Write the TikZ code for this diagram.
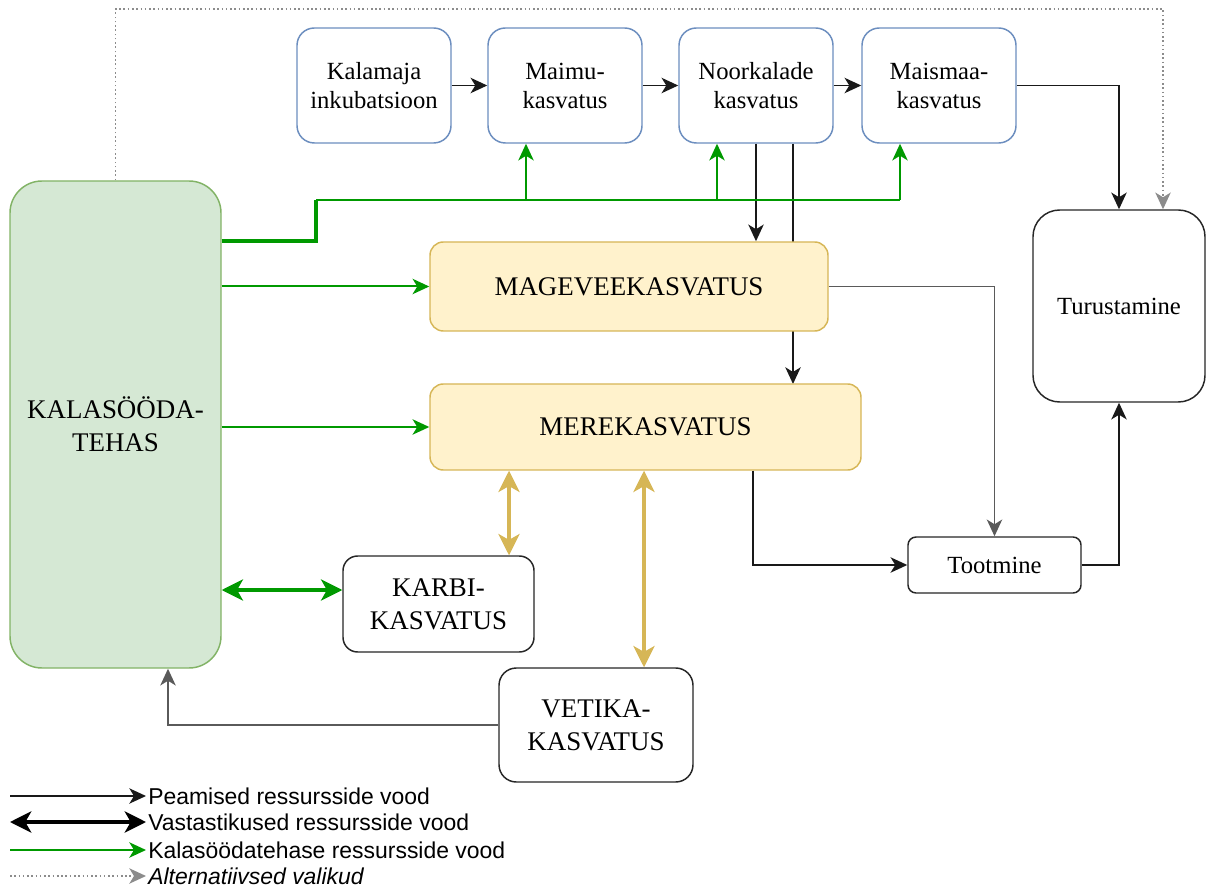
\documentclass[tikz,border=0pt]{standalone}
\usepackage{fontspec}
\setmainfont{Liberation Serif}
\newfontfamily\legfont{Liberation Sans}
\usetikzlibrary{arrows.meta,calc}
\definecolor{blueb}{HTML}{6C8EBF}
\definecolor{greenf}{HTML}{D5E8D4}
\definecolor{greenb}{HTML}{82B366}
\definecolor{yellf}{HTML}{FFF2CC}
\definecolor{yellb}{HTML}{D6B656}
\definecolor{gline}{HTML}{009900}
\definecolor{grayline}{HTML}{5A5A5A}
\definecolor{altgray}{HTML}{8C8C8C}
\begin{document}
\begin{tikzpicture}[x=0.75pt,y=-0.75pt,
  base/.style={line width=1.1pt, align=center, inner sep=0pt},
  smallfont/.style={font=\fontsize{18.5}{21.75}\selectfont},
  topbox/.style={base, draw=blueb, fill=white, rounded corners=13pt,
    minimum width=115.5pt, minimum height=86.25pt, smallfont},
  capsfont/.style={font=\fontsize{20.2}{25}\selectfont},
  blkbox/.style={base, draw=black!85, fill=white},
  arr/.style={line width=1.4pt, draw=black!90, -{Stealth[length=12.5pt,width=11.5pt,inset=3.5pt]}},
  grarr/.style={line width=1.4pt, draw=grayline, -{Stealth[length=12.5pt,width=11.5pt,inset=3.5pt]}},
  garr/.style={line width=1.5pt, draw=gline, -{Stealth[length=12.5pt,width=11.5pt,inset=3.5pt]}},
  gln/.style={line width=1.5pt, draw=gline},
  gdbl/.style={line width=2.4pt, draw=gline, {Stealth[length=16pt,width=16pt,inset=4.5pt]}-{Stealth[length=16pt,width=16pt,inset=4.5pt]}},
  ydbl/.style={line width=2.4pt, draw=yellb, {Stealth[length=16pt,width=16pt,inset=4.5pt]}-{Stealth[length=16pt,width=16pt,inset=4.5pt]}},
  altarr/.style={line width=1.2pt, draw=altgray, dotted, -{Stealth[length=12.5pt,width=11.5pt,inset=3.5pt,fill=altgray]}},
  legtext/.style={anchor=west, inner sep=0pt, font=\legfont\fontsize{17.2}{20}\selectfont}
]
\useasboundingbox (0,0) rectangle (1206,887);

% top row
\node[topbox] (kal) at (374,85.5) {Kalamaja\\inkubatsioon};
\node[topbox] (maimu) at (565,85.5) {Maimu-\\kasvatus};
\node[topbox] (noor) at (756,85.5) {Noorkalade\\kasvatus};
\node[topbox] (maism) at (939,85.5) {Maismaa-\\kasvatus};

% right
\node[blkbox, rounded corners=20pt, minimum width=129pt, minimum height=144pt,
  smallfont] (tur) at (1119,306) {Turustamine};
\node[blkbox, rounded corners=6pt, minimum width=129.75pt, minimum height=42pt,
  smallfont] (toot) at (994.5,565) {Tootmine};

% feed factory
\node[base, draw=greenb, fill=greenf, rounded corners=24pt, minimum width=158.25pt,
  minimum height=365.25pt, capsfont] (feed) at (115.5,424.5) {KALASÖÖDA-\\TEHAS};

% line from Noorkalade to Merekasvatus, passing behind Mageveekasvatus
\draw[arr] ([xshift=27.75pt]noor.south) -- ([xshift=27.75pt]noor.south |- 0,384);

\node[base, draw=yellb, fill=yellf, rounded corners=10pt, minimum width=298.5pt,
  minimum height=66.75pt, capsfont] (mage) at (629,286.5) {MAGEVEEKASVATUS};
\node[base, draw=yellb, fill=yellf, rounded corners=10pt, minimum width=323.25pt,
  minimum height=64.5pt, capsfont] (mere) at (645.5,427) {MEREKASVATUS};

\node[blkbox, rounded corners=11pt, minimum width=143.25pt, minimum height=72pt,
  capsfont] (karbi) at (438.5,604) {KARBI-\\KASVATUS};
\node[blkbox, rounded corners=13pt, minimum width=145.5pt, minimum height=85.5pt,
  capsfont] (vet) at (596,725) {VETIKA-\\KASVATUS};

% top row arrows
\draw[arr] (kal) -- (maimu);
\draw[arr] (maimu) -- (noor);
\draw[arr] (noor) -- (maism);
\draw[arr] (maism.east) -| (tur.north);
\draw[arr] (noor.south) -- (mage.north -| noor.south);

% alternative dotted
\draw[altarr] (feed.north) |- (1163,9) -- (tur.north -| 1163,0);

% green feed lines
\draw[line width=3pt, draw=gline] (feed.east |- 0,241) -- (316,241) -- (316,200);
\draw[gln] (316,200) -- (900,200);
\draw[garr] ([xshift=-29.25pt]maimu.south |- 0,200) -- ([xshift=-29.25pt]maimu.south);
\draw[garr] ([xshift=-29.25pt]noor.south |- 0,200) -- ([xshift=-29.25pt]noor.south);
\draw[garr] ([xshift=-29.25pt]maism.south |- 0,200) -- ([xshift=-29.25pt]maism.south);
\draw[garr] (feed.east |- mage.west) -- (mage.west);
\draw[garr] (feed.east |- mere.west) -- (mere.west);
\draw[gdbl] (feed.east |- 0,590) -- (karbi.west |- 0,590);

% gold mutual arrows
\draw[ydbl] (mere.south -| 509,0) -- (karbi.north -| 509,0);
\draw[ydbl] (mere.south -| 644,0) -- (vet.north -| 644,0);

% production flows
\draw[grarr] (mage.east) -| (toot.north);
\draw[arr] ([xshift=80.6pt]mere.south) |- (toot.west);
\draw[arr] (toot.east) -| (tur.south);
\draw[grarr] (vet.west) -| (feed.south -| 168,0);

% legend
\coordinate (l1a) at (10,796); \coordinate (l1b) at (146,796);
\coordinate (l2a) at (10,822); \coordinate (l2b) at (146,822);
\coordinate (l3a) at (10,850); \coordinate (l3b) at (146,850);
\coordinate (l4a) at (10,876); \coordinate (l4b) at (146,876);
\draw[arr, line width=1.1pt] (l1a) -- (l1b);
\draw[line width=2.4pt, draw=black, {Stealth[length=16pt,width=16pt,inset=4.5pt]}-{Stealth[length=16pt,width=16pt,inset=4.5pt]}] (l2a) -- (l2b);
\draw[garr] (l3a) -- (l3b);
\draw[altarr] (l4a) -- (l4b);
\node[legtext] (t1) at (148,796) {Peamised ressursside vood};
\node[legtext] (t2) at (148,822) {Vastastikused ressursside vood};
\node[legtext] (t3) at (148,850) {Kalasöödatehase ressursside vood};
\node[legtext] (t4) at (148,876) {\itshape Alternatiivsed valikud};
\end{tikzpicture}
\end{document}
